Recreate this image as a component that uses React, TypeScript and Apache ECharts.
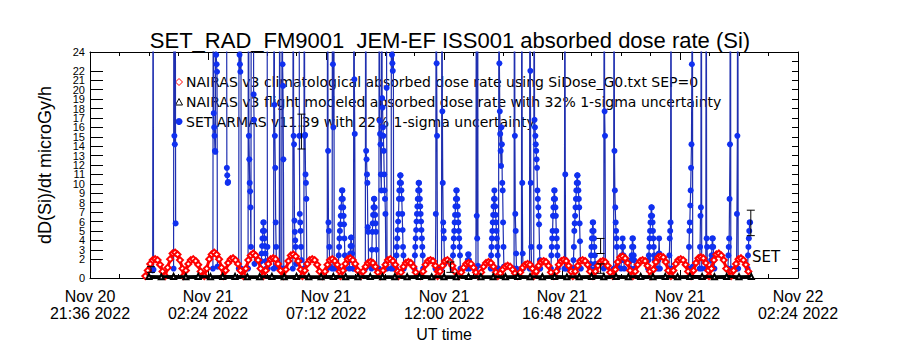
import React, { useEffect, useRef } from 'react';
import * as echarts from 'echarts';

const FONT = "'Liberation Sans', Arial, sans-serif";
const WIDE = "'DejaVu Sans', 'Liberation Sans', sans-serif";

// x axis: hours since Nov 20 2022 21:36 UT
const tickDates = ['Nov 20', 'Nov 21', 'Nov 21', 'Nov 21', 'Nov 21', 'Nov 21', 'Nov 22'];
const tickTimes = ['21:36 2022', '02:24 2022', '07:12 2022', '12:00 2022', '16:48 2022', '21:36 2022', '02:24 2022'];

// SET ARMAS passes: start hour, then 1-minute samples (microGy/h)
const armasStart = [
  2.55, 3.40, 5.00, 5.55, 6.05, 6.43, 6.64, 6.95, 7.20, 7.47,
  7.70, 7.80, 8.25, 8.50, 8.70, 9.65, 9.85, 10.10, 10.55, 10.72,
  11.20, 11.45, 11.75, 12.05, 12.25, 12.45, 13.20, 14.05, 14.30, 14.75,
  15.35, 15.70, 16.30, 16.62, 17.25, 17.55, 17.88, 18.05, 18.75, 19.30,
  19.65, 20.35, 20.90, 21.30, 21.60, 22.00, 22.70, 23.10, 23.55, 24.35,
  24.80, 25.05, 25.25, 25.95, 26.30, 26.75,
];
const armasValues = [
  [0.8, 48, 0.9],
  [1.0, 55, 15.1, 14.2, 42, 5.8],
  [1.0, 50, 17.5, 16.0, 15.1, 13.5, 13.4, 44, 23.7, 22.7, 21.9, 1.2],
  [50, 11.7, 10.9, 10.1, 10.2],
  [1.0, 45, 23.7, 22.7, 21.9, 50, 1.0],
  [1.0, 55, 15.1, 12.6, 10.1, 9.2, 7.5, 3.3, 48],
  [46, 19.5, 16.8, 1.5],
  [1.0, 1.8, 2.6, 3.4, 4.2, 5.0, 5.9, 5.9, 5.0, 4.2, 3.4, 2.6, 1.8, 1.0],
  [48, 3.3, 1.0],
  [1.0, 52, 18.4, 15.1, 11.7, 5.9, 3.3, 1.2],
  [1.0, 45, 1.0],
  [1.0, 50, 22.7, 20.4, 12.6, 1.0],
  [1.0, 48, 15.1, 14.2, 6.1, 4.9, 4.0, 3.3, 1.5],
  [50, 15.1, 6.8, 5.9, 5.0, 3.3, 1.9],
  [1.0, 46, 15.1, 15.2, 11.0, 10.1, 8.4, 1.5],
  [1.0, 50, 13.5, 5.9, 5.0, 3.3, 1.2],
  [1.0, 55, 22.7, 16.0, 48, 1.0],
  [1.0, 2.4, 3.3, 4.2, 5.0, 5.7, 6.6, 7.5, 8.4, 9.3, 9.3, 8.4, 7.5, 6.6, 5.7, 4.2, 2.4, 1.0],
  [1.0, 1.9, 2.6, 3.4, 4.3, 4.3, 3.4, 2.6, 1.9, 1.0],
  [1.0, 50, 21.1, 15.3, 1.2],
  [1.0, 50, 13.5, 12.6, 11.0, 10.1, 5.4, 4.9, 1.3],
  [1.0, 3.0, 4.9, 5.8, 6.7, 7.5, 8.4, 8.4, 7.5, 6.7, 5.8, 4.9, 3.0, 1.0],
  [1.0, 48, 16.7, 15.3, 14.2, 11.0, 9.3, 52, 19.1, 18.1, 16.0, 15.1, 13.5, 11.0, 9.3, 8.4, 6.8, 1.5],
  [45, 20.2, 1.0],
  [1.0, 52, 23.7, 22.8, 22.0, 45, 1.0],
  [1.0, 2.4, 3.3, 4.2, 5.1, 6.0, 6.8, 8.4, 9.3, 10.1, 10.9, 10.9, 10.1, 9.3, 8.4, 6.8, 5.1, 3.3, 2.4, 1.0],
  [1.0, 2.4, 3.3, 4.2, 5.1, 6.0, 6.8, 7.6, 8.4, 9.3, 10.1, 10.1, 9.3, 8.4, 7.6, 6.8, 6.0, 5.1, 4.2, 3.3, 2.4, 1.0],
  [1.0, 6.8, 50, 22.8, 15.1, 1.0],
  [1.0, 52, 17.7, 10.1, 5.9, 5.0, 4.2, 1.5],
  [1.0, 2.4, 3.3, 4.2, 5.0, 5.9, 6.7, 7.6, 8.4, 9.3, 9.3, 8.4, 7.6, 6.7, 5.9, 5.0, 4.2, 3.3, 2.4, 1.0],
  [1.0, 1.9, 2.5, 2.5, 1.9, 1.0],
  [1.0, 48, 6.6, 4.2, 50, 1.3],
  [1.0, 2.4, 3.3, 4.2, 5.0, 5.9, 6.7, 7.6, 8.4, 9.3, 8.4, 7.6, 6.7, 5.9, 5.0, 4.2, 3.3, 2.4, 1.0],
  [1.0, 50, 22.8, 17.7, 15.3, 13.5, 11.9, 16.0, 14.2, 10.1, 9.3, 5.9, 3.3, 1.2],
  [1.0, 50, 15.1, 6.8, 5.0, 2.6, 1.0],
  [1.0, 48, 10.1, 2.6, 1.0],
  [1.0, 52, 22.0, 10.1, 3.3, 1.0],
  [1.0, 50, 16.8, 16.0, 15.1, 14.2, 13.5, 12.6, 11.7, 9.3, 8.4, 7.5, 6.6, 5.7, 3.3, 1.9, 1.0],
  [1.0, 2.4, 3.3, 4.2, 5.0, 6.6, 7.5, 8.4, 9.3, 9.3, 8.4, 7.5, 6.6, 5.0, 4.2, 3.3, 2.4, 1.0],
  [1.0, 48, 11.0, 1.9, 1.0],
  [1.0, 1.9, 3.3, 5.0, 5.8, 6.6, 7.5, 8.4, 9.3, 10.1, 10.9, 10.9, 10.1, 9.3, 8.4, 7.5, 5.8, 3.9, 1.9, 1.0],
  [1.0, 1.5, 2.4, 3.3, 4.2, 5.0, 5.9, 5.9, 5.0, 4.2, 3.3, 2.4, 1.5, 1.0],
  [1.0, 50, 17.7, 15.1, 1.2],
  [1.0, 48, 13.5, 9.3, 7.5, 5.9, 5.0, 4.2, 3.3, 1.3],
  [1.0, 1.9, 2.4, 3.3, 4.2, 3.3, 2.4, 1.9, 1.0],
  [1.0, 1.9, 2.4, 3.3, 4.2, 4.2, 3.3, 2.4, 1.9, 1.0],
  [1.0, 1.9, 2.4, 3.3, 4.2, 5.0, 5.9, 6.6, 7.5, 7.5, 6.6, 5.9, 5.0, 4.2, 3.3, 2.4, 1.9, 1.0],
  [1.0, 1.9, 2.6, 4.2, 2.6, 1.0],
  [1.0, 2.4, 4.2, 5.0, 5.9, 50, 1.0],
  [1.0, 3.3, 5.0, 5.9, 7.7, 9.3, 11.7, 14.2, 22.7, 55, 1.2],
  [1.0, 3.3, 6.6, 7.5, 52, 1.0],
  [1.0, 50, 4.2, 3.3, 1.0],
  [1.0, 1.9, 2.4, 3.3, 4.2, 4.2, 3.3, 2.4, 1.9, 1.0],
  [1.0, 2.4, 3.3, 4.2, 8.4, 14.2, 55, 1.0],
  [1.0, 6.8, 15.1, 50, 1.0],
  [1.0, 2.4, 3.3, 4.2, 5.0, 5.9, 5.9],
];

// NAIRAS climatological: hump centre hours and samples every 6 min (from -24 min to +18 min)
const climPeakTimes = [
  2.65, 3.46, 4.20, 5.05, 5.82, 6.64, 7.45, 8.27, 9.04, 9.86,
  10.59, 11.41, 12.22, 12.95, 13.85, 14.54, 15.40, 16.21, 16.99, 17.80,
  18.45, 19.27, 20.04, 20.86, 21.67, 22.48, 23.22, 24.03, 24.85, 25.58, 26.48,
];
const climHumps = [
  [0.2, 0.8, 1.5, 1.9, 2.0, 1.9, 1.4, 0.7],
  [0.2, 1.1, 2.0, 2.6, 2.7, 2.5, 1.9, 1.0],
  [0.2, 0.8, 1.5, 1.9, 2.0, 1.8, 1.4, 0.7],
  [0.2, 1.0, 2.0, 2.5, 2.7, 2.5, 2.0, 1.1],
  [0.2, 0.8, 1.6, 2.0, 2.1, 1.9, 1.5, 0.8],
  [0.2, 1.0, 1.9, 2.4, 2.6, 2.4, 1.9, 1.0],
  [0.2, 0.8, 1.5, 2.0, 2.1, 2.0, 1.5, 0.8],
  [0.2, 0.9, 1.8, 2.4, 2.5, 2.3, 1.8, 0.9],
  [0.2, 0.8, 1.5, 1.9, 2.0, 1.9, 1.4, 0.7],
  [0.2, 0.7, 1.4, 1.9, 2.0, 1.8, 1.4, 0.7],
  [0.2, 0.8, 1.5, 2.0, 2.1, 1.9, 1.5, 0.8],
  [0.2, 0.7, 1.2, 1.6, 1.7, 1.6, 1.2, 0.6],
  [0.2, 0.8, 1.4, 1.9, 2.0, 1.8, 1.4, 0.7],
  [0.2, 0.6, 1.2, 1.6, 1.7, 1.6, 1.2, 0.6],
  [0.2, 0.7, 1.4, 1.8, 1.9, 1.8, 1.3, 0.7],
  [0.2, 0.7, 1.3, 1.8, 1.9, 1.7, 1.3, 0.7],
  [0.2, 0.6, 1.1, 1.5, 1.6, 1.5, 1.1, 0.6],
  [0.2, 0.6, 1.2, 1.6, 1.7, 1.6, 1.2, 0.6],
  [0.2, 0.5, 0.9, 1.2, 1.3, 1.2, 0.9, 0.5],
  [0.2, 0.6, 1.1, 1.4, 1.5, 1.4, 1.0, 0.5],
  [0.2, 0.7, 1.3, 1.7, 1.8, 1.7, 1.3, 0.6],
  [0.2, 0.7, 1.4, 1.8, 1.9, 1.8, 1.3, 0.7],
  [0.2, 0.7, 1.3, 1.8, 1.9, 1.8, 1.4, 0.7],
  [0.2, 0.7, 1.3, 1.7, 1.8, 1.7, 1.3, 0.6],
  [0.2, 0.9, 1.7, 2.2, 2.3, 2.1, 1.6, 0.8],
  [0.2, 0.7, 1.4, 1.8, 1.9, 1.8, 1.3, 0.7],
  [0.2, 0.9, 1.7, 2.2, 2.3, 2.2, 1.7, 0.8],
  [0.2, 0.8, 1.5, 1.9, 2.0, 1.9, 1.4, 0.7],
  [0.2, 0.8, 1.6, 2.1, 2.2, 2.1, 1.6, 0.8],
  [0.2, 1.0, 1.9, 2.5, 2.6, 2.4, 1.9, 1.0],
  [0.2, 0.8, 1.5, 2.0, 2.1, 1.9, 1.4, 0.7],
];

// NAIRAS flight modeled: every 30 min from hour 2.4
const flightStart = 2.4;
const flightValues = [
  0.15, 0.12, 0.16, 0.14, 0.17, 0.13, 0.15, 0.16, 0.12, 0.14,
  0.15, 0.13, 0.16, 0.14, 0.12, 0.15, 0.14, 0.13, 0.15, 0.12,
  0.14, 0.13, 0.15, 0.12, 0.14, 0.13, 0.15, 0.14, 0.12, 0.13,
  0.15, 0.14, 0.13, 0.15, 0.12, 0.14, 0.16, 0.13, 0.15, 0.14,
  0.16, 0.13, 0.15, 0.14, 0.16, 0.15, 0.13, 0.15, 0.14, 0.15,
];

// 1-sigma error bars
const errTimes = [2.48, 8.6, 14.66, 20.77, 20.77, 26.88];
const errLow = [0.6, 13.7, 0.6, 2.6, 0.5, 4.5];
const errHigh = [1.2, 17.4, 1.7, 4.2, 1.5, 7.2];

const legendLabels = [
  'NAIRAS v3 climatological absorbed dose rate using SiDose_G0.txt SEP=0',
  'NAIRAS v3 flight modeled absorbed dose rate with 32% 1-sigma uncertainty',
  'SET ARMAS v11.39 with 22% 1-sigma uncertainty',
];

export default function App() {
  const ref = useRef<HTMLDivElement>(null);

  useEffect(() => {
    document.body.style.margin = '0';
    if (!ref.current) return;
    const chart = echarts.init(ref.current, null, { renderer: 'svg' });

    const armasData: any[] = [];
    armasStart.forEach((t0, k) => {
      armasValues[k].forEach((v, i) => armasData.push([t0 + i / 60, v]));
      armasData.push([t0 + armasValues[k].length / 60, '-']);
    });

    const climData: any[] = [];
    climPeakTimes.forEach((tp, k) => {
      climHumps[k].forEach((v, j) => climData.push([tp - 0.4 + j * 0.1, v]));
    });

    const flightData = flightValues.map((v, i) => [flightStart + i * 0.5, v]);
    const errData = errTimes.map((t, i) => [t, errLow[i], errHigh[i]]);

    const axisLine = { show: true, onZero: false, lineStyle: { color: '#000', width: 1 } };
    const textBase = { fontFamily: FONT, color: '#000' };

    const option: any = {
      animation: false,
      backgroundColor: '#ffffff',
      title: {
        text: 'SET_RAD_FM9001  JEM-EF ISS001 absorbed dose rate (Si)',
        left: 'center',
        top: 24,
        textStyle: { ...textBase, fontSize: 22, fontWeight: 'normal' },
      },
      grid: { left: 90, right: 102, top: 52, bottom: 72 },
      xAxis: [
        {
          type: 'value', min: 0, max: 28.8, interval: 4.8, position: 'bottom',
          axisLine,
          axisTick: { show: true, inside: true, length: 8, lineStyle: { color: '#000' } },
          minorTick: { show: true, splitNumber: 4, length: 4, lineStyle: { color: '#000' } },
          splitLine: { show: false },
          axisLabel: {
            ...textBase, fontSize: 16, lineHeight: 17, margin: 10,
            showMinLabel: true, showMaxLabel: true,
            formatter: (v: number) => {
              const i = Math.round(v / 4.8);
              return tickDates[i] + '\n' + tickTimes[i];
            },
          },
          name: 'UT time', nameLocation: 'middle', nameGap: 44,
          nameTextStyle: { ...textBase, fontSize: 16 },
        },
        {
          type: 'value', min: 0, max: 28.8, interval: 4.8, position: 'top',
          axisLine,
          axisTick: { show: true, inside: true, length: 8, lineStyle: { color: '#000' } },
          minorTick: { show: true, splitNumber: 4, length: 4, lineStyle: { color: '#000' } },
          splitLine: { show: false },
          axisLabel: { show: false },
        },
      ],
      yAxis: [
        {
          type: 'value', min: 0, max: 24, interval: 1, position: 'left',
          axisLine,
          axisTick: { show: true, inside: true, length: 13, lineStyle: { color: '#000' } },
          splitLine: { show: false },
          axisLabel: { ...textBase, fontSize: 11, lineHeight: 9, margin: 5, hideOverlap: false, showMinLabel: true, showMaxLabel: true },
          name: 'dD(Si)/dt microGy/h', nameLocation: 'middle', nameGap: 36, nameRotate: 90,
          nameTextStyle: { ...textBase, fontSize: 18 },
        },
        {
          type: 'value', min: 0, max: 24, interval: 1, position: 'right',
          axisLine,
          axisTick: { show: true, inside: true, length: 6, lineStyle: { color: '#000' } },
          splitLine: { show: false },
          axisLabel: { show: false },
        },
      ],
      graphic: [
        { type: 'polygon', z: 0, shape: { points: [[179, 78.5], [182.5, 82], [179, 85.5], [175.5, 82]] }, style: { stroke: '#ff0000', fill: '#fff', lineWidth: 1 } },
        { type: 'polygon', z: 0, shape: { points: [[179, 98.5], [182.5, 105], [175.5, 105]] }, style: { stroke: '#000', fill: '#fff', lineWidth: 1 } },
        { type: 'circle', z: 0, shape: { cx: 179, cy: 121.5, r: 3.5 }, style: { fill: '#1030f0' } },
        ...legendLabels.map((s, i) => ({
          type: 'text', z: 0, x: 186, y: [82, 102, 121.5][i],
          style: { text: s, fontFamily: WIDE, fontSize: 14, fill: '#000', verticalAlign: 'middle', align: 'left' },
        })),
        { type: 'text', z: 10, x: 752, y: 257, style: { text: 'SET', fontFamily: WIDE, fontSize: 15, fill: '#000', verticalAlign: 'middle' } },
      ],
      series: [
        {
          name: 'SET ARMAS', type: 'line', data: armasData, connectNulls: false,
          symbol: 'circle', symbolSize: 6, showAllSymbol: true, clip: true, z: 2,
          lineStyle: { color: '#1f2fb0', width: 1.2 },
          itemStyle: { color: '#1030f0' },
        },
        {
          name: 'NAIRAS climatological', type: 'line', data: climData,
          symbol: 'emptyDiamond', symbolSize: 6, showAllSymbol: true, clip: true, z: 3,
          lineStyle: { color: '#ff0000', width: 3 },
          itemStyle: { color: '#ff0000', borderWidth: 1 },
        },
        {
          name: 'NAIRAS flight', type: 'line', data: flightData,
          symbol: 'emptyTriangle', symbolSize: 5, showAllSymbol: true, clip: true, z: 4,
          lineStyle: { color: '#000', width: 3 },
          itemStyle: { color: '#000', borderWidth: 1 },
        },
        {
          name: 'errors', type: 'custom', data: errData, z: 5,
          encode: { x: 0, y: [1, 2] },
          renderItem: (params: any, api: any) => {
            const x = api.value(0);
            const p1 = api.coord([x, api.value(1)]);
            const p2 = api.coord([x, api.value(2)]);
            const h = 4;
            const st = { stroke: '#000', lineWidth: 1 };
            return {
              type: 'group',
              children: [
                { type: 'line', shape: { x1: p1[0], y1: p1[1], x2: p2[0], y2: p2[1] }, style: st },
                { type: 'line', shape: { x1: p1[0] - h, y1: p1[1], x2: p1[0] + h, y2: p1[1] }, style: st },
                { type: 'line', shape: { x1: p2[0] - h, y1: p2[1], x2: p2[0] + h, y2: p2[1] }, style: st },
              ],
            };
          },
        },
      ],
    };

    chart.setOption(option);
    return () => chart.dispose();
  }, []);

  return <div ref={ref} style={{ width: 900, height: 350 }} />;
}
